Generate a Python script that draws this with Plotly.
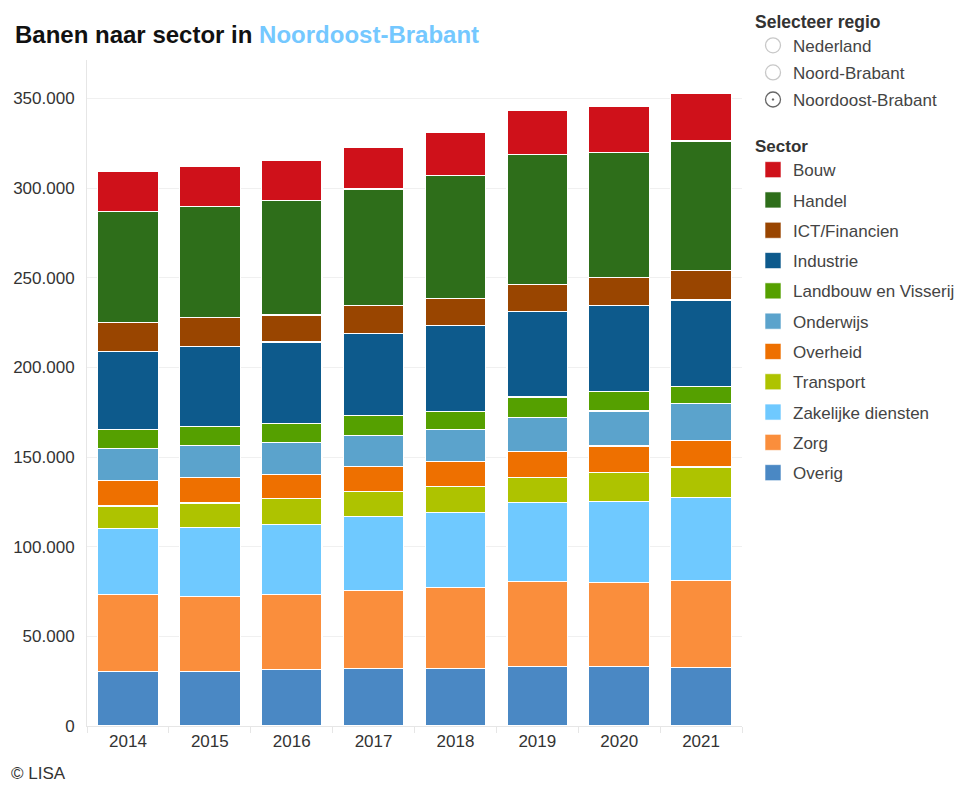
import plotly.graph_objects as go

years = ["2014", "2015", "2016", "2017", "2018", "2019", "2020", "2021"]

# stacked from bottom to top
sectors = ["Overig", "Zorg", "Zakelijke diensten", "Transport", "Overheid",
           "Onderwijs", "Landbouw en Visserij", "Industrie", "ICT/Financien",
           "Handel", "Bouw"]

overig = [30600, 30200, 31500, 32100, 32100, 33400, 33400, 32600]
zorg = [42800, 42200, 41900, 43300, 45000, 47300, 46500, 48700]
zakelijke = [36800, 38300, 39200, 41300, 42200, 43900, 45200, 46100]
transport = [12500, 13700, 14500, 14300, 14300, 14200, 16200, 17100]
overheid = [14400, 14000, 13400, 13600, 14100, 14300, 14900, 14900]
onderwijs = [17700, 18100, 17500, 17500, 17700, 19200, 19500, 20300]
landbouw = [10800, 10600, 10800, 10900, 10200, 11200, 10800, 9900]
industrie = [43500, 44600, 45400, 46000, 48000, 47800, 48000, 48000]
ict = [16000, 16000, 15100, 15400, 14900, 14900, 15800, 16700]
handel = [61800, 61900, 63800, 65100, 68600, 72500, 69800, 72000]
bouw = [22500, 22300, 22300, 23300, 24000, 24600, 25500, 26600]

values = [overig, zorg, zakelijke, transport, overheid, onderwijs,
          landbouw, industrie, ict, handel, bouw]

colors = ["#4a88c4", "#fa8e3c", "#6fc9ff", "#aec300", "#ee7000",
          "#5ba3cc", "#55a000", "#0d5a8c", "#994500", "#2e6e1a", "#cf111a"]

regions = ["Nederland", "Noord-Brabant", "Noordoost-Brabant"]
selected_region = "Noordoost-Brabant"

FONT = "Liberation Sans, Arial, sans-serif"
W, H = 964, 786

fig = go.Figure()

for name, vals, col in zip(sectors, values, colors):
    fig.add_trace(go.Bar(
        x=years, y=vals, name=name, legendgroup=name, showlegend=False,
        marker=dict(color=col, line=dict(color="white", width=1.2)),
        hovertemplate=name + " %{x}: %{y:,.0f}<extra></extra>",
    ))

# legend entries for sectors (top to bottom: Bouw ... Overig)
for rank, (name, col) in enumerate(zip(reversed(sectors), reversed(colors))):
    fig.add_trace(go.Scatter(
        x=[None], y=[None], mode="markers", name=name, legendgroup=name,
        legendrank=rank + 1, legend="legend",
        marker=dict(symbol="square", size=16, color=col,
                    line=dict(color="rgba(255,255,255,0.6)", width=1)),
        hoverinfo="skip",
    ))

# region selector look-alike
for rank, reg in enumerate(regions):
    sel = reg == selected_region
    fig.add_trace(go.Scatter(
        x=[None], y=[None], mode="markers", name=reg, legend="legend2",
        legendgroup="regio_" + reg, legendrank=rank + 1,
        marker=dict(symbol="circle-open-dot" if sel else "circle-open",
                    size=15, color="#666666" if sel else "#c8c8c8",
                    line=dict(width=1.3)),
        hoverinfo="skip",
    ))

fig.update_layout(
    width=W, height=H,
    barmode="stack", bargap=0.26,
    separators=",.",
    paper_bgcolor="white", plot_bgcolor="white",
    font=dict(family=FONT, size=17, color="#333333"),
    margin=dict(l=87, r=222, t=60, b=60),
    title=dict(
        text="<b>Banen naar sector in <span style='color:#74c8ff'>Noordoost-Brabant</span></b>",
        x=15 / W, xref="container", xanchor="left",
        y=1 - 35 / H, yref="container", yanchor="middle",
        font=dict(family=FONT, size=24, color="#111111"),
    ),
    xaxis=dict(
        type="category", showgrid=False, showline=True, linecolor="#e6e6e6",
        ticks="outside", tickson="boundaries", ticklen=6, tickcolor="#e6e6e6",
        tickfont=dict(size=17, color="#333333"), fixedrange=True,
    ),
    yaxis=dict(
        range=[0, 371500], dtick=50000, tickformat=",d",
        showgrid=True, gridcolor="#f0f0f0", gridwidth=1,
        showline=True, linecolor="#e6e6e6", zeroline=False,
        tickfont=dict(size=17, color="#333333"), ticks="", ticklabelstandoff=8,
        fixedrange=True,
    ),
    legend=dict(
        xref="container", yref="container", x=753 / W, y=1 - 130 / H,
        xanchor="left", yanchor="top",
        title=dict(text="<b>Sector</b>", font=dict(size=17, color="#333333")),
        font=dict(size=17, color="#444444"),
        tracegroupgap=5.2, itemclick="toggle", bgcolor="rgba(0,0,0,0)",
    ),
    legend2=dict(
        xref="container", yref="container", x=753 / W, y=1 - 5 / H,
        xanchor="left", yanchor="top",
        title=dict(text="<b>Selecteer regio</b>", font=dict(size=17.5, color="#333333")),
        font=dict(size=17, color="#444444"), bgcolor="rgba(0,0,0,0)",
        tracegroupgap=2, itemclick=False, itemdoubleclick=False,
    ),
    annotations=[dict(
        text="© LISA", xref="paper", yref="paper", x=(9 - 87) / 655, xanchor="left",
        y=-(785 - 726) / 666, yanchor="bottom", showarrow=False,
        font=dict(family=FONT, size=17, color="#333333"),
    )],
)

fig.write_html("out.html", config={"displayModeBar": False},
               post_script="document.body.style.margin='0';")
